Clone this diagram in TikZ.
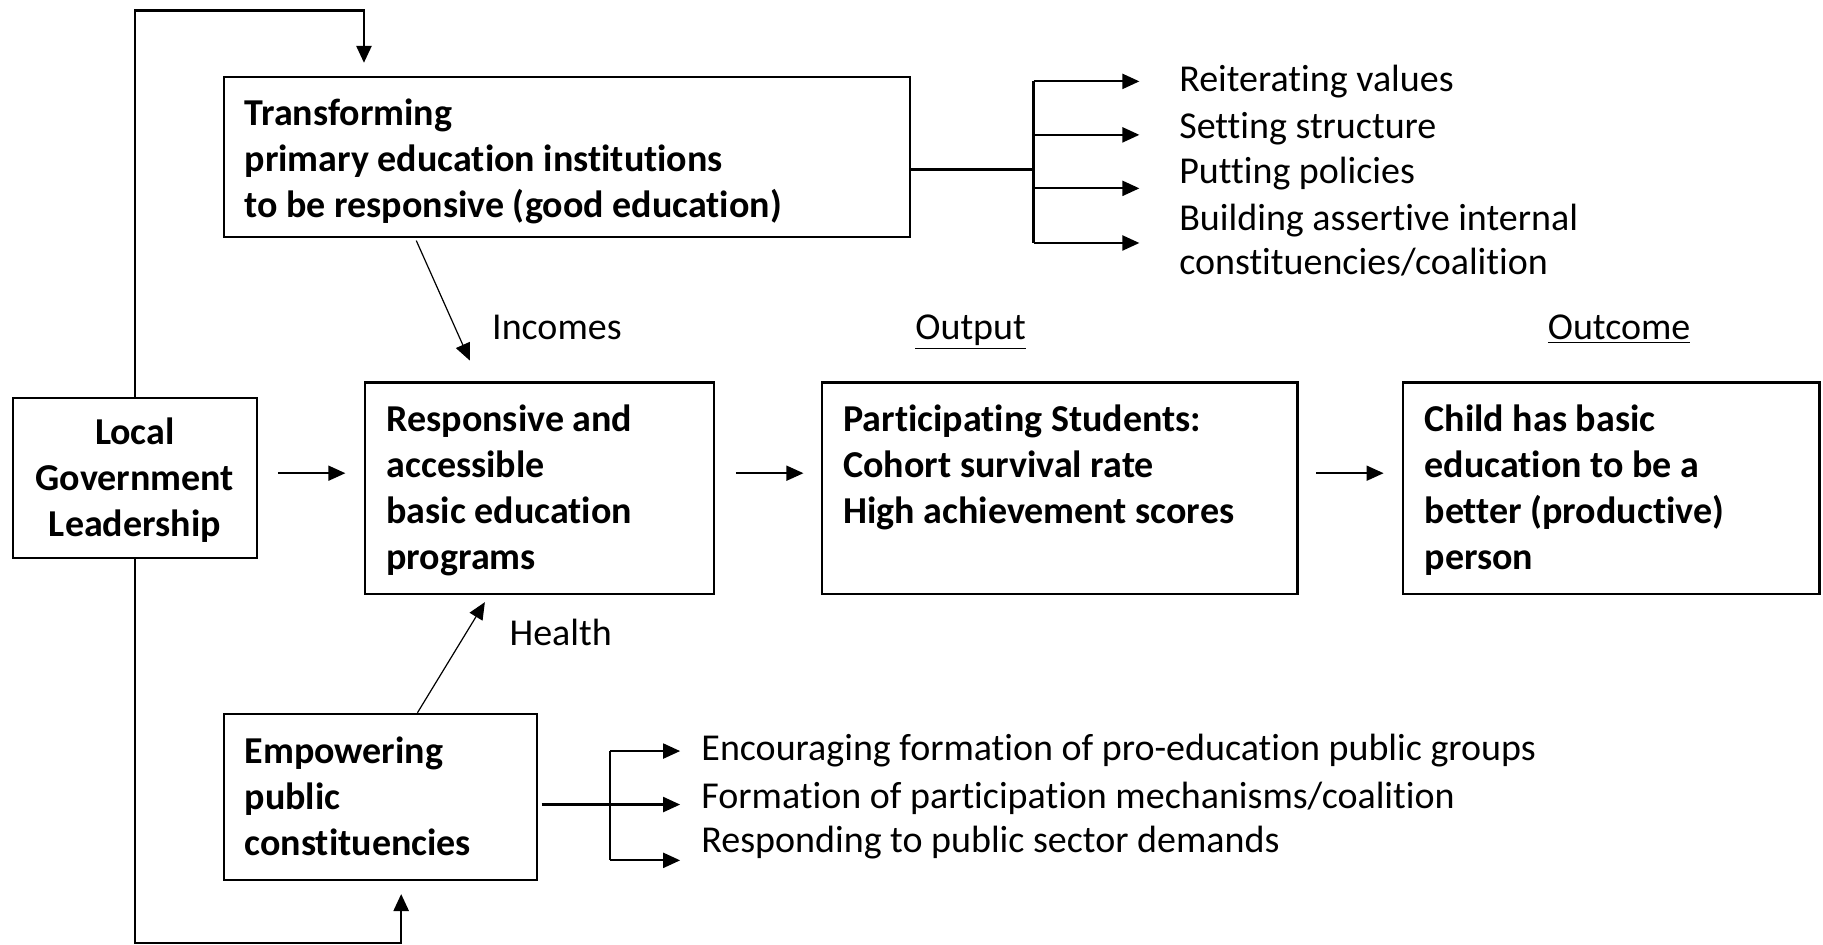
\documentclass[tikz,border=0pt]{standalone}
\usepackage{fontspec}
\setmainfont{Carlito}[RawFeature=-liga,RawFeature=-clig,RawFeature=-dlig,RawFeature=-calt]
\usetikzlibrary{arrows.meta,fit,calc}
\begin{document}
\begin{tikzpicture}[x=0.5813pt,y=-0.5813pt,
  box/.style={draw, line width=1.1pt, inner sep=0pt},
  btxt/.style={font=\bfseries\fontsize{19}{23}\selectfont, align=left, inner sep=0pt, anchor=north west},
  ntxt/.style={font=\fontsize{19}{23}\selectfont, inner sep=0pt, anchor=base west},
  arr/.style={-{Triangle[length=8.5pt,width=7.5pt]}},
  flow/.style={line width=0.8pt, arr},
  diag/.style={line width=0.6pt, arr},
  loopline/.style={line width=1.3pt},
  forkline/.style={line width=1.1pt},
  stemline/.style={line width=1.6pt},
]
\useasboundingbox (0,0) rectangle (1568,812);

% boxes
\node[box, fit={(193,66) (783,204)}] (trans) {};
\node[btxt] (transT) at ([shift={(18,20)}]trans.north west) {Transforming\\primary education institutions\\to be responsive (good education)};

\node[box, fit={(11,342) (221,480)}] (lgl) {};
\node[font=\bfseries\fontsize{19}{23}\selectfont, align=center, inner sep=0pt] (lglT) at ([shift={(0,2)}]lgl.center) {Local\\Government\\Leadership};

\node[box, fit={(314,329) (614,511)}] (resp) {};
\node[btxt] (respT) at ([shift={(19,20)}]resp.north west) {Responsive and\\accessible\\basic education\\programs};

\node[box, fit={(707,329) (1116,511)}] (part) {};
\node[btxt] (partT) at ([shift={(19,20)}]part.north west) {Participating Students:\\Cohort survival rate\\High achievement scores};

\node[box, fit={(1207,329) (1565,511)}] (child) {};
\node[btxt] (childT) at ([shift={(19,20)}]child.north west) {Child has basic\\education to be a\\better (productive)\\person};

\node[box, fit={(193,614) (462,757)}] (emp) {};
\node[btxt] (empT) at ([shift={(18,20)}]emp.north west) {Empowering\\public\\constituencies};

% labels
\node[ntxt] (inc) at (423,292) {Incomes};
\node[ntxt] (outp) at (787,292) {\underline{Output}};
\node[ntxt] (outc) at (1331,292) {\underline{Outcome}};
\node[ntxt] (hea) at (438,555) {Health};

% top list
\node[ntxt] (r1) at (1014,79) {Reiterating values};
\node[ntxt] (r2) at (1014,119) {Setting structure};
\node[ntxt] (r3) at (1014,158) {Putting policies};
\node[ntxt] (r4) at (1014,198) {Building assertive internal};
\node[ntxt] (r5) at (1014,236) {constituencies/coalition};

% bottom list
\node[ntxt] (b1) at (603,654) {Encouraging formation of pro-education public groups};
\node[ntxt] (b2) at (603,695) {Formation of participation mechanisms/coalition};
\node[ntxt] (b3) at (603,733) {Responding to public sector demands};

% main flow arrows
\draw[flow] ([shift={(17,-4)}]lgl.east) -- ([shift={(-16,-13)}]resp.west);
\draw[flow] ([shift={(18,-13)}]resp.east) -- ([shift={(-15,-13)}]part.west);
\draw[flow] ([shift={(15,-13)}]part.east) -- ([shift={(-16,-13)}]child.west);

% diagonal arrows
\draw[diag] ([shift={(166,2)}]trans.south west) -- ([shift={(91,-18)}]resp.north west);
\draw[diag] ([shift={(167,0)}]emp.north west) -- ([shift={(104,6)}]resp.south west);

% feedback loops
\draw[loopline, arr] (lgl.north) -- ++(0,-332) -| ([shift={(121,-11)}]trans.north west);
\draw[loopline, arr] (lgl.south) -- ++(0,330) -| ([shift={(153,11)}]emp.south west);

% top fork
\coordinate (tf) at (889,146);
\draw[stemline] ([shift={(0,11)}]trans.east) -- (tf);
\draw[forkline] (889,70) -- (889,209);
\foreach \yy/\nm in {70/ta,116/tb,162/tc,209/td}{
  \coordinate (\nm s) at (889,\yy);
  \coordinate (\nm e) at (980,\yy);
  \draw[forkline, arr] (\nm s) -- (\nm e);
}

% bottom fork
\coordinate (bf) at (525,692);
\draw[stemline] ([shift={(3,6.5)}]emp.east) -- (bf);
\draw[forkline] (525,646) -- (525,740);
\foreach \yy/\nm in {646/ba,692/bb,740/bc}{
  \coordinate (\nm s) at (525,\yy);
  \coordinate (\nm e) at (585,\yy);
  \draw[forkline, arr] (\nm s) -- (\nm e);
}
\end{tikzpicture}
\end{document}
